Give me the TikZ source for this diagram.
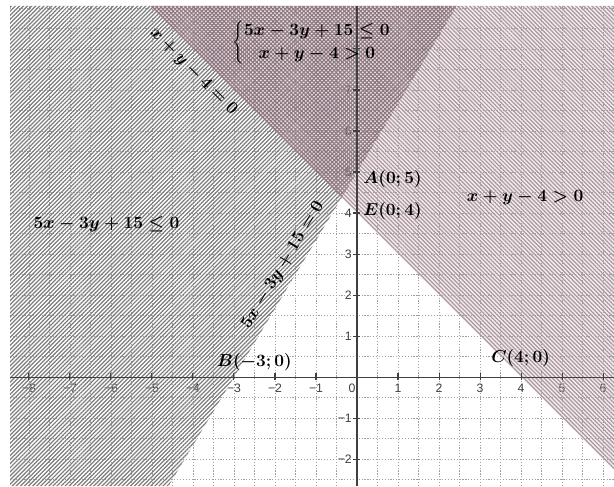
\documentclass[tikz,border=0pt]{standalone}
\usepackage{fontspec}
\newfontfamily\tickfont{Liberation Sans}
\usetikzlibrary{patterns.meta}
\definecolor{hatchgray}{HTML}{7C7C7C}
\definecolor{pinkbg}{HTML}{F6ECEF}
\definecolor{pinkline}{HTML}{A8989F}
\definecolor{overline}{HTML}{8C7880}
\definecolor{overbg}{HTML}{F0E3E7}
\definecolor{gridgray}{HTML}{A0A0A0}
\definecolor{axisgray}{HTML}{404040}
\begin{document}
\begin{tikzpicture}[x=1cm,y=1cm,
  gridline/.style={gridgray, line width=0.5pt, dash pattern=on 0.8pt off 1.2pt},
  hatchL/.style={pattern={Lines[angle=45,distance=2pt,line width=0.85pt]}, pattern color=hatchgray},
  hatchR/.style={pattern={Lines[angle=-45,distance=2pt,line width=0.85pt]}, pattern color=pinkline},
  hatchOa/.style={pattern={Lines[angle=45,distance=2pt,line width=0.8pt]}, pattern color=overline},
  hatchOb/.style={pattern={Lines[angle=-45,distance=2pt,line width=0.8pt]}, pattern color=overline},
  ticklab/.style={font=\tickfont\fontsize{8.5}{10}\selectfont, text=axisgray, inner sep=0pt},
  mathlab/.style={font=\fontsize{13}{16}\selectfont\boldmath, inner sep=0pt},
  axisline/.style={axisgray, line width=0.7pt}]
% frame
\useasboundingbox (-8.707,-2.659) rectangle (6.268,9.195);
\fill[white] (-8.707,-2.659) rectangle (6.268,9.195);
% key points
\coordinate (pBL) at (-8.463,-2.659);
\coordinate (pTL) at (-8.463,9.049);
\coordinate (pTR) at (6.268,9.049);
\coordinate (pBR) at (6.268,-2.659);
\coordinate (lB1) at (-4.596,-2.659);
\coordinate (lB2) at (2.430,9.049);
\coordinate (lC1) at (-5.049,9.049);
\coordinate (lC2) at (6.268,-2.268);
\coordinate (pI) at (-0.375,4.375);
% backgrounds
\fill[pinkbg] (pI) -- (lB2) -- (pTR) -- (lC2) -- cycle;
\fill[overbg] (lC1) -- (pI) -- (lB2) -- cycle;
% grid
\draw[gridline] (pBL) grid[step=0.5] (pTR);
% tick labels
\foreach \v/\t in {-8/−8,-7/−7,-6/−6,-5/−5,-4/−4,-3/−3,-2/−2,-1/−1,1/1,2/2,3/3,4/4,5/5,6/6}
  \node[ticklab, anchor=north] (tx\v) at (\v,-0.17) {\t};
\node[ticklab, anchor=north] (tx0) at (-0.12,-0.17) {0};
\foreach \v/\t in {-2/−2,-1/−1,1/1,2/2,3/3,4/4,5/5,6/6,7/7}
  \node[ticklab, anchor=east] (ty\v) at (-0.12,\v) {\t};
% hatched regions
\fill[hatchL] (pBL) -- (lB1) -- (pI) -- (lC1) -- (pTL) -- cycle;
\fill[hatchR] (pI) -- (lB2) -- (pTR) -- (lC2) -- cycle;
\fill[hatchOa] (lC1) -- (pI) -- (lB2) -- cycle;
\fill[hatchOb] (lC1) -- (pI) -- (lB2) -- cycle;
% axes
\draw[axisline] (-8.463,0) -- (6.268,0);
\draw[axisline] (0,-2.659) -- (0,9.049);
\foreach \v in {-8,...,-1,1,2,...,6}
  \draw[axisline] (\v,-0.08) -- (\v,0.1);
\foreach \v in {-2,-1,1,2,...,8}
  \draw[axisline] (-0.1,\v) -- (0.08,\v);
% labels
\node[mathlab, rotate=-45] (lxy) at (-3.99,7.45) {$x+y-4=0$};
\node[mathlab, rotate=59.04] (l5x) at (-1.80,2.73) {$5x-3y+15=0$};
\node[mathlab] (lleft) at (-6.11,3.73) {$5x-3y+15\le 0$};
\node[mathlab] (lright) at (4.10,4.37) {$x+y-4>0$};
\node[mathlab, anchor=west] (lA) at (0.15,4.83) {$A(0;5)$};
\node[mathlab, anchor=west] (lE) at (0.15,4.05) {$E(0;4)$};
\node[mathlab] (lBB) at (-2.5,0.37) {$B(-3;0)$};
\node[mathlab] (lCC) at (3.99,0.47) {$C(4;0)$};
\node[mathlab] (lsys) at (-1.1,8.15) {$\left\{\begin{array}{@{}c@{}}5x-3y+15\le0\\ x+y-4>0\end{array}\right.$};
\end{tikzpicture}
\end{document}
